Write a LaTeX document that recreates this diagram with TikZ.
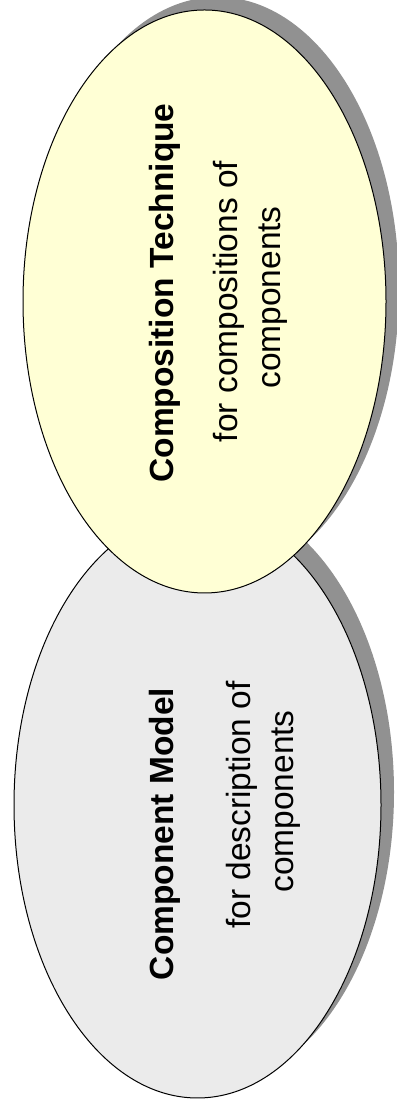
\documentclass[tikz,border=0pt]{standalone}
\usepackage{fontspec}
\setmainfont{Liberation Sans}
\usetikzlibrary{shapes.geometric, shadows, positioning}

\definecolor{techyellow}{RGB}{255,255,213}
\definecolor{modelgray}{RGB}{235,235,235}
\definecolor{shadowgray}{RGB}{145,145,145}

\begin{document}
\begin{tikzpicture}[x=1pt, y=1pt,
		bubble/.style={draw, ellipse, line width=1pt, inner sep=0pt, drop shadow={shadow xshift=13pt, shadow yshift=13pt, fill=shadowgray, opacity=1}},
		headline/.style={rotate=90, anchor=base, inner sep=0pt, font=\fontsize{33.5}{40}\selectfont\bfseries},
		subline/.style={rotate=90, anchor=base, inner sep=0pt, font=\fontsize{33.5}{40}\selectfont}]
	\useasboundingbox (0,0) rectangle (396,1107);

	\node(model)  [bubble, fill=modelgray, minimum width=367pt, minimum height=586pt] at (197.5,302) {};
	\node(technique)  [bubble, fill=techyellow, minimum width=363pt, minimum height=583pt] at (204.5,805.5) {};

	\node(modeltitle)  [headline] at (173,273) {Component Model};
	\node(modeldesc)  [subline] at (250,302) {for description of};
	\node(modeldescb)  [subline] at (293,305.5) {components};

	\node(techtitle)  [headline] at (173,814) {Composition Technique};
	\node(techdesc)  [subline] at (237,805.5) {for compositions of};
	\node(techdescb)  [subline] at (280,809.5) {components};
	%\node(techdescc)  [subline] at (320,809.5) {};
\end{tikzpicture}
\end{document}
